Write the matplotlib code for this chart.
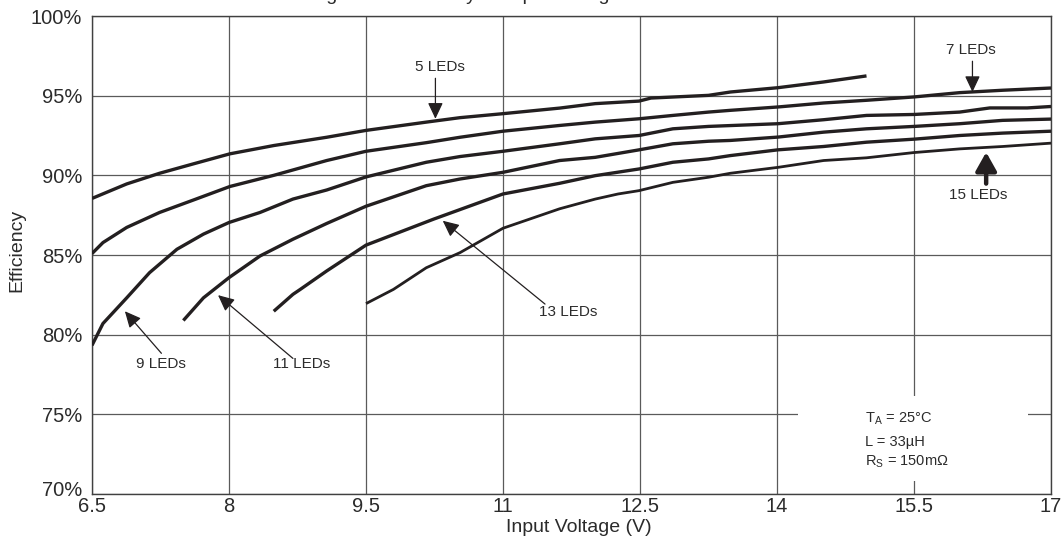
import matplotlib
matplotlib.use('Agg')
import matplotlib.pyplot as plt
from matplotlib.patches import Rectangle
from matplotlib.transforms import ScaledTranslation

plt.rcParams['font.family'] = ['Liberation Sans', 'DejaVu Sans']
plt.rcParams['mathtext.fontset'] = 'custom'
plt.rcParams['mathtext.rm'] = 'Liberation Sans'

# efficiency (%) vs input voltage (V), one curve per LED count
v_5 = [6.5, 6.88, 7.24, 7.61, 8.01, 8.49, 9.07, 9.5, 10.16, 10.53, 11.0, 11.62, 12.01, 12.49,
       12.62, 13.25, 13.49, 14.01, 14.51, 14.98]
eff_5 = [88.55, 89.46, 90.13, 90.72, 91.35, 91.87, 92.39, 92.82, 93.34, 93.62, 93.87, 94.22, 94.5, 94.66,
         94.85, 95.02, 95.23, 95.5, 95.86, 96.24]

v_7 = [6.5, 6.62, 6.88, 7.24, 7.61, 8.01, 8.49, 9.07, 9.5, 10.16, 10.53, 11.0, 11.62, 12.01, 12.49,
       12.86, 13.25, 13.49, 14.01, 14.51, 14.98, 15.5, 16.0, 16.47, 17.0]
eff_7 = [85.09, 85.78, 86.73, 87.67, 88.45, 89.3, 90.0, 90.93, 91.51, 92.05, 92.39, 92.77, 93.13, 93.34, 93.55,
         93.76, 93.97, 94.08, 94.29, 94.54, 94.71, 94.92, 95.19, 95.34, 95.48]

v_9 = [6.5, 6.62, 6.88, 7.13, 7.43, 7.72, 8.0, 8.34, 8.7, 9.07, 9.5, 10.16, 10.53, 11.0, 11.62, 12.01,
       12.49, 12.86, 13.25, 14.01, 14.51, 14.98, 15.5, 16.0, 16.33, 16.74, 17.0]
eff_9 = [79.33, 80.7, 82.31, 83.89, 85.36, 86.31, 87.04, 87.67, 88.51, 89.08, 89.9, 90.82, 91.18, 91.51, 91.98, 92.29,
         92.5, 92.92, 93.07, 93.24, 93.49, 93.76, 93.82, 93.97, 94.23, 94.23, 94.32]

v_11 = [7.5, 7.72, 8.0, 8.34, 8.7, 9.07, 9.5, 10.16, 10.53, 11.0, 11.62, 12.01, 12.49, 12.86, 13.25,
        13.49, 14.01, 14.51, 14.98, 15.5, 16.0, 16.47, 17.0]
eff_11 = [80.89, 82.31, 83.58, 84.94, 85.99, 86.98, 88.06, 89.35, 89.77, 90.19, 90.93, 91.13, 91.6, 91.98, 92.14,
          92.19, 92.4, 92.71, 92.92, 93.07, 93.24, 93.45, 93.53]

v_13 = [8.49, 8.7, 8.78, 9.07, 9.5, 10.24, 11.0, 11.62, 12.01, 12.49, 12.86, 13.25, 13.49, 14.01, 14.51,
        14.98, 15.5, 16.0, 16.47, 17.0]
eff_13 = [81.47, 82.53, 82.84, 84.0, 85.62, 87.25, 88.83, 89.5, 89.98, 90.4, 90.82, 91.03, 91.24, 91.6, 91.81,
          92.08, 92.27, 92.5, 92.65, 92.77]

v_15 = [9.5, 9.8, 10.16, 10.53, 11.0, 11.62, 12.01, 12.26, 12.49, 12.86, 13.25, 13.49, 14.01, 14.51, 14.98,
        15.5, 16.0, 16.47, 17.0]
eff_15 = [81.95, 82.84, 84.2, 85.15, 86.68, 87.9, 88.51, 88.83, 89.04, 89.56, 89.88, 90.13, 90.5, 90.93, 91.1,
          91.43, 91.66, 91.81, 92.02]

x_ticks = [6.5, 8, 9.5, 11, 12.5, 14, 15.5, 17]
x_labels = ['6.5', '8', '9.5', '11', '12.5', '14', '15.5', '17']
y_ticks = [70, 75, 80, 85, 90, 95, 100]

ink = '#231f20'
txt = '#2b2b2b'

fig = plt.figure(figsize=(10.63, 5.42), dpi=100, facecolor='white')
ax = fig.add_axes([92 / 1063, 1 - 494 / 542, 959 / 1063, 478 / 542])

for v, e, lw in [(v_5, eff_5, 2.4), (v_7, eff_7, 2.4), (v_9, eff_9, 2.4),
                 (v_11, eff_11, 2.4), (v_13, eff_13, 2.4), (v_15, eff_15, 2.0)]:
    ax.plot(v, e, color=ink, lw=lw, solid_capstyle='butt', zorder=3)

ax.set_xlim(6.5, 17)
ax.set_ylim(70, 100)
ax.set_xticks(x_ticks)
ax.set_xticklabels(x_labels)
ax.set_yticks(y_ticks)
ax.set_yticklabels([f'{t}%' for t in y_ticks])
ax.tick_params(axis='both', length=0, labelsize=14.5, labelcolor=txt)
ax.tick_params(axis='y', pad=7)
ax.tick_params(axis='x', pad=2)
# the bottom percentage label sits a little higher than its gridline
lbl70 = ax.get_yticklabels()[0]
lbl70.set_transform(lbl70.get_transform() + ScaledTranslation(0, 4 / 72, fig.dpi_scale_trans))

ax.set_axisbelow(True)
ax.grid(True, color='#5a5a5a', lw=0.9)
for s in ax.spines.values():
    s.set_color('#404040')
    s.set_linewidth(1.0)

ax.set_xlabel('Input Voltage (V)', fontsize=14, color=txt)
ax.set_ylabel('Efficiency', fontsize=14, color=txt)
ax.xaxis.set_label_coords(0.508, -0.052)
ax.yaxis.set_label_coords(-0.069, 0.51)

# white patch behind the conditions note
ax.add_patch(Rectangle((14.23, 70.83), 2.52, 5.35, facecolor='white', edgecolor='none', zorder=1.5))
ax.text(14.96, 74.50, r'T$_\mathrm{A}$ = 25°C', fontsize=10.5, color=txt, va='baseline', zorder=4)
ax.text(14.96, 73.03, 'L = 33µH', fontsize=10.5, color=txt, va='baseline', zorder=4)
ax.text(14.96, 71.81, r'R$_\mathrm{S}$ = 150mΩ', fontsize=10.5, color=txt, va='baseline', zorder=4)

thin = dict(arrowstyle='-|>,head_length=0.7,head_width=0.33', mutation_scale=14,
            color=ink, lw=0.9, shrinkA=0, shrinkB=0)
thick = dict(arrowstyle='-|>,head_length=0.8,head_width=0.45', mutation_scale=14,
             color=ink, lw=3.2, shrinkA=0, shrinkB=0)

labels = [
    ('5 LEDs', (10.31, 96.79), (10.26, 96.09), (10.26, 93.55), thin),
    ('7 LEDs', (16.12, 97.86), (16.14, 97.16), (16.14, 95.23), thin),
    ('15 LEDs', (16.20, 88.78), (16.29, 89.48), (16.29, 91.45), thick),
    ('9 LEDs', (7.26, 78.13), (7.26, 78.83), (6.86, 81.47), thin),
    ('11 LEDs', (8.80, 78.13), (8.70, 78.51), (7.88, 82.48), thin),
    ('13 LEDs', (11.71, 81.41), (11.46, 81.92), (10.34, 87.15), thin),
]
for name, tpos, start, tip, style in labels:
    ax.text(tpos[0], tpos[1], name, fontsize=11, color=txt, ha='center', va='center', zorder=4)
    ax.annotate('', xy=tip, xytext=start, arrowprops=style, zorder=4)

# the caption above the plot is cropped by the image edge in the original
fig.text(535 / 1063, 1 - 0.3 / 542, 'Figure 4. Efficiency vs Input Voltage and LED Count',
         ha='center', va='baseline', fontsize=14, color=txt)

fig.savefig('out.png', dpi=100, facecolor='white')
